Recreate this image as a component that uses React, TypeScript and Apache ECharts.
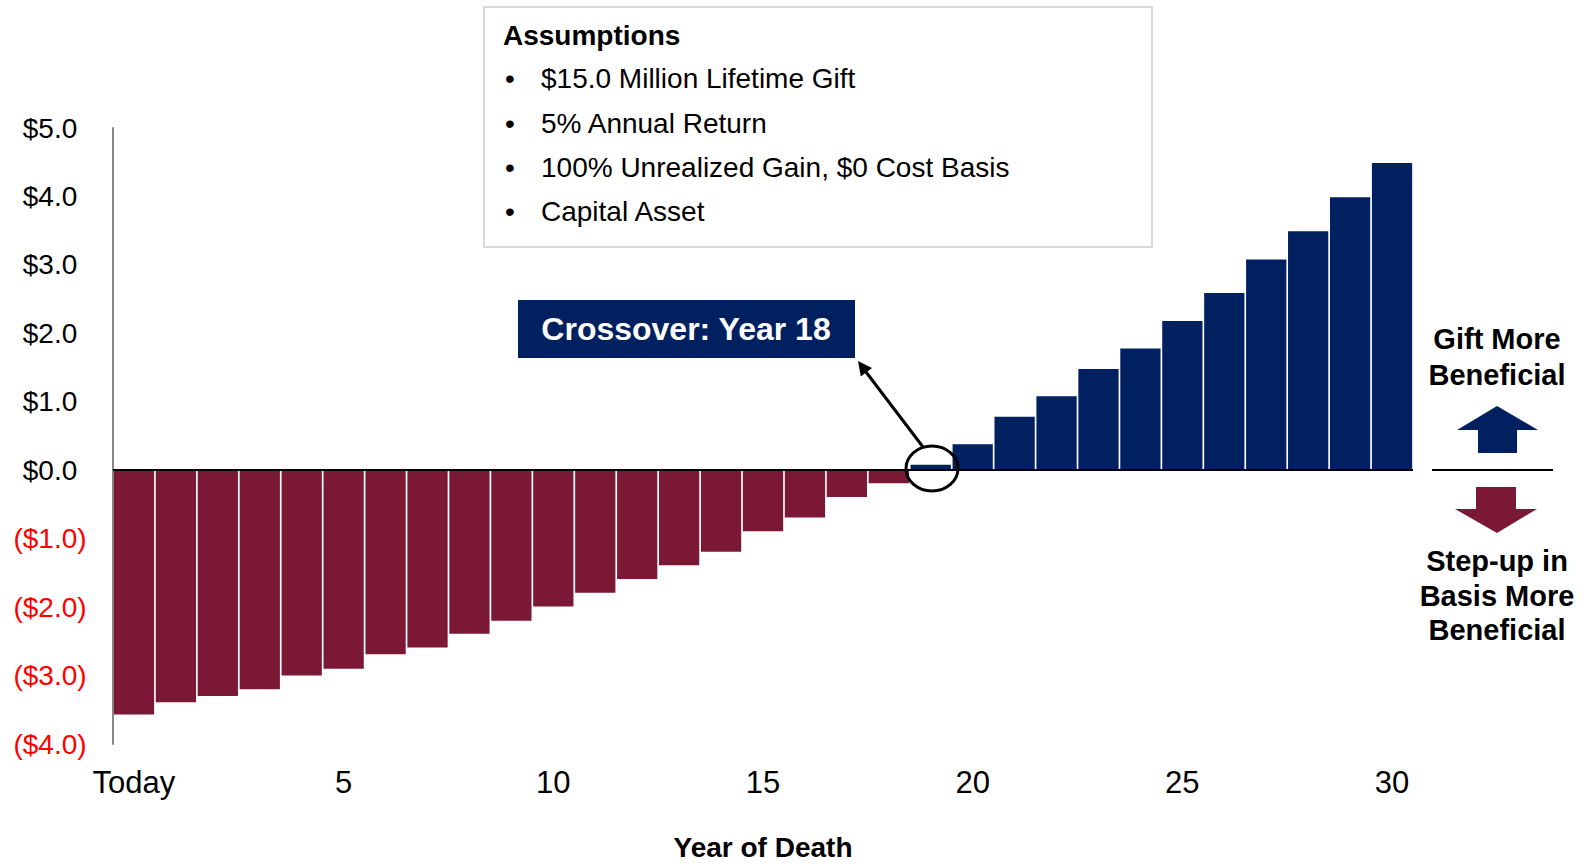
import React, { useEffect, useRef } from "react";
import * as echarts from "echarts";

// Year of death categories (Today, then years 1..30)
const years = [
  "Today", "1", "2", "3", "4", "5", "6", "7", "8", "9", "10",
  "11", "12", "13", "14", "15", "16", "17", "18", "19", "20",
  "21", "22", "23", "24", "25", "26", "27", "28", "29", "30",
];

// Net benefit of gifting vs. step-up in basis, $ millions
const netBenefit = [
  -3.57, -3.39, -3.3, -3.2, -3.0, -2.9, -2.69, -2.59, -2.39, -2.2, -1.99,
  -1.79, -1.59, -1.39, -1.19, -0.89, -0.69, -0.39, -0.19, 0.08, 0.38,
  0.78, 1.08, 1.48, 1.78, 2.18, 2.59, 3.08, 3.49, 3.99, 4.49,
];

const yTicks = { min: -4, max: 5, interval: 1 };

const assumptions = [
  "$15.0 Million Lifetime Gift",
  "5% Annual Return",
  "100% Unrealized Gain, $0 Cost Basis",
  "Capital Asset",
];

const NAVY = "#002060";
const MAROON = "#7B1836";
const FONT = "'Liberation Sans', Arial, sans-serif";

const fmtMoney = (v: number) =>
  v < 0 ? `($${(-v).toFixed(1)})` : `$${v.toFixed(1)}`;

export default function App() {
  const ref = useRef<HTMLDivElement>(null);

  useEffect(() => {
    if (!ref.current) return;
    const chart = echarts.init(ref.current, null, { renderer: "svg" });

    const bulletY = [78, 123, 167, 211];
    const assumptionTexts: any[] = [];
    assumptions.forEach((t, i) => {
      assumptionTexts.push({
        type: "text",
        x: 505,
        y: bulletY[i],
        style: { text: "•", font: `28px ${FONT}`, fill: "#000", verticalAlign: "middle" },
      });
      assumptionTexts.push({
        type: "text",
        x: 541,
        y: bulletY[i],
        style: { text: t, font: `28px ${FONT}`, fill: "#000", verticalAlign: "middle" },
      });
    });

    const sideText = (text: string, y: number) => ({
      type: "text",
      x: 1497,
      y,
      style: {
        text,
        font: `bold 29px ${FONT}`,
        fill: "#000",
        align: "center",
        verticalAlign: "middle",
      },
    });

    chart.setOption({
      animation: false,
      backgroundColor: "#fff",
      grid: { left: 113, right: 173, top: 128, bottom: 120 },
      xAxis: {
        type: "category",
        data: years,
        axisLine: { show: false },
        axisTick: { show: false },
        axisLabel: {
          interval: 4,
          margin: 23,
          color: "#000",
          fontSize: 31,
          fontFamily: FONT,
        },
        splitLine: { show: false },
      },
      yAxis: {
        type: "value",
        min: yTicks.min,
        max: yTicks.max,
        interval: yTicks.interval,
        axisLine: { show: true, lineStyle: { color: "#898989", width: 2 } },
        axisTick: { show: false },
        splitLine: { show: false },
        axisLabel: {
          margin: 63,
          align: "center",
          fontSize: 28,
          fontFamily: FONT,
          formatter: (v: number) => fmtMoney(v),
          color: (v: any) => (Number(v) < 0 ? "#FF0000" : "#000"),
        },
      },
      series: [
        {
          type: "bar",
          data: netBenefit,
          barCategoryGap: "4%",
          itemStyle: {
            color: (p: any) => (p.value < 0 ? MAROON : NAVY),
          },
          markLine: {
            silent: true,
            symbol: "none",
            label: { show: false },
            lineStyle: { color: "#000", width: 2, type: "solid" },
            data: [{ yAxis: 0 }],
          },
        },
      ],
      graphic: [
        // Assumptions panel
        {
          type: "rect",
          shape: { x: 484, y: 7, width: 668, height: 240 },
          style: { fill: "#fff", stroke: "#d9d9d9", lineWidth: 2 },
        },
        {
          type: "text",
          x: 503,
          y: 35,
          style: {
            text: "Assumptions",
            font: `bold 28px ${FONT}`,
            fill: "#000",
            verticalAlign: "middle",
          },
        },
        ...assumptionTexts,
        // Crossover callout
        {
          type: "rect",
          shape: { x: 518, y: 300, width: 337, height: 58 },
          style: { fill: NAVY },
        },
        {
          type: "text",
          x: 686,
          y: 329,
          style: {
            text: "Crossover: Year 18",
            font: `bold 32px ${FONT}`,
            fill: "#fff",
            align: "center",
            verticalAlign: "middle",
          },
        },
        {
          type: "line",
          shape: { x1: 923, y1: 447, x2: 866, y2: 372 },
          style: { stroke: "#000", lineWidth: 3 },
        },
        {
          type: "polygon",
          shape: { points: [[858, 361], [872, 368], [860.8, 376.4]] },
          style: { fill: "#000" },
        },
        {
          type: "ellipse",
          shape: { cx: 932, cy: 468.5, rx: 26, ry: 22.5 },
          style: { fill: "none", stroke: "#000", lineWidth: 3 },
          z: 10,
        },
        // Right-hand legend
        sideText("Gift More", 339),
        sideText("Beneficial", 375),
        {
          type: "polygon",
          shape: {
            points: [
              [1497, 406], [1538, 430], [1517, 430], [1517, 453],
              [1478, 453], [1478, 430], [1457, 430],
            ],
          },
          style: { fill: NAVY },
        },
        {
          type: "line",
          shape: { x1: 1432, y1: 470, x2: 1553, y2: 470 },
          style: { stroke: "#000", lineWidth: 2 },
        },
        {
          type: "polygon",
          shape: {
            points: [
              [1476, 487], [1516, 487], [1516, 509], [1537, 509],
              [1497, 533], [1455, 509], [1476, 509],
            ],
          },
          style: { fill: MAROON },
        },
        sideText("Step-up in", 561),
        sideText("Basis More", 596),
        sideText("Beneficial", 630),
        // Axis title
        {
          type: "text",
          x: 763,
          y: 847,
          style: {
            text: "Year of Death",
            font: `bold 28px ${FONT}`,
            fill: "#000",
            align: "center",
            verticalAlign: "middle",
          },
        },
      ],
    });

    return () => chart.dispose();
  }, []);

  return (
    <div
      ref={ref}
      style={{ position: "fixed", left: 0, top: 0, width: 1586, height: 864 }}
    />
  );
}
